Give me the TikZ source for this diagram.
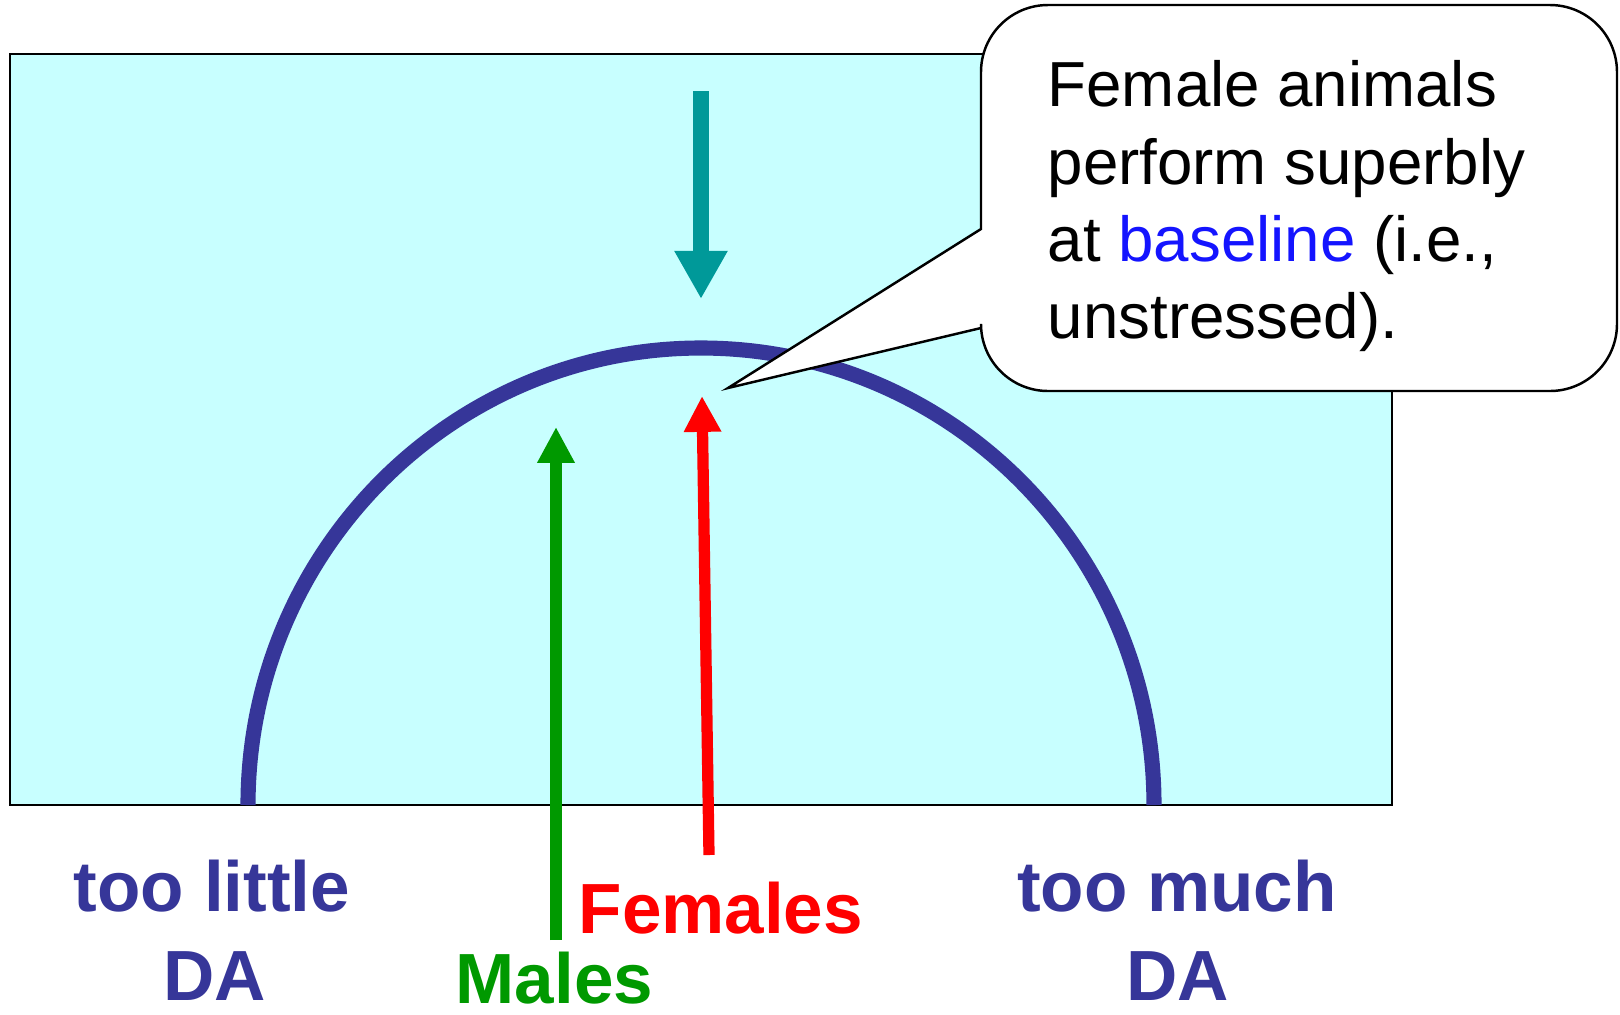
\documentclass[tikz,border=0pt]{standalone}
\usepackage{fontspec}
\setmainfont{Liberation Sans}
\usetikzlibrary{arrows.meta}
\definecolor{bgcyan}{RGB}{200,255,255}
\definecolor{navy}{RGB}{54,54,153}
\definecolor{tealc}{RGB}{0,153,153}
\definecolor{greenc}{RGB}{0,153,0}
\definecolor{bluec}{RGB}{20,20,255}
\tikzset{
  lbl/.style={inner sep=0pt, font=\fontsize{20.2}{24}\selectfont\bfseries},
  bigarrow/.style={line width=4.3pt, -{Triangle[length=13.7pt,width=14.2pt]}},
  smallarrow/.style={line width=3.2pt, -{Triangle[length=10.2pt,width=10pt]}},
  callout/.style={draw=black, fill=white, line width=0.7pt},
}
\begin{document}
\begin{tikzpicture}[x=0.01cm,y=-0.01cm]
\useasboundingbox (0,0) rectangle (1620,1014);
% background panel
\draw[fill=bgcyan, draw=black, line width=0.7pt] (10,54) rectangle (1392,805);
% curve
\draw[navy, line width=4.3pt] (248,805) arc[start angle=180, end angle=0, x radius=453, y radius=-457];
% arrows
\coordinate (ttop) at (701,91);
\coordinate (ttip) at (701,299);
\draw[bigarrow, tealc] (ttop) -- (ttip);
\coordinate (gbot) at (556,940);
\coordinate (gtip) at (556,427);
\draw[smallarrow, greenc] (gbot) -- (gtip);
\coordinate (rbot) at (709,855);
\coordinate (rtip) at (702,396);
\draw[smallarrow, red] (rbot) -- (rtip);
% callout
\coordinate (ptip) at (728,388);
\draw[callout] (981,229) -- (ptip) -- (981,328) [rounded corners=0.67cm] -- (981,391) -- (1617,391) -- (1617,5) -- (981,5) [sharp corners] -- cycle;
\node[anchor=north west, inner sep=0pt, align=left, font=\fontsize{18.1}{22}\selectfont] (note) at (1047,60)
  {Female animals\\perform superbly\\at \textcolor{bluec}{baseline} (i.e.,\\unstressed).};
% labels
\node[lbl, navy, anchor=base] (tl1) at (212,911) {too little};
\node[lbl, navy, anchor=base] (tl2) at (215,1000) {DA};
\node[lbl, navy, anchor=base] (tm1) at (1177,911) {too much};
\node[lbl, navy, anchor=base] (tm2) at (1178,1000) {DA};
\node[lbl, red, anchor=base west] (fem) at (578,933) {Females};
\node[lbl, greenc, anchor=base west] (mal) at (455,1003) {Males};
\end{tikzpicture}
\end{document}
